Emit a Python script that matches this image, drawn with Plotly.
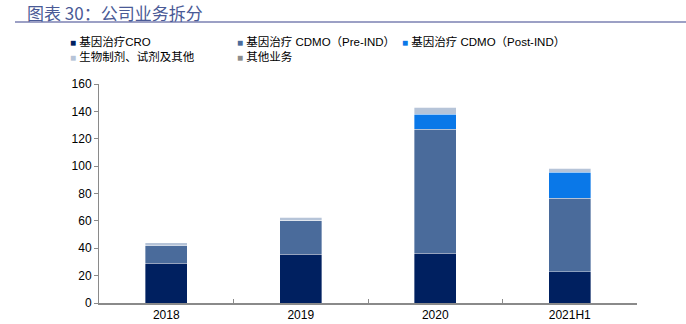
import plotly.graph_objects as go

categories = ["2018", "2019", "2020", "2021H1"]
series_names = ["基因治疗CRO", "基因治疗 CDMO（Pre-IND）", "基因治疗 CDMO（Post-IND）",
                "生物制剂、试剂及其他", "其他业务"]
cro = [29.0, 35.6, 36.3, 23.0]
cdmo_pre = [13.0, 25.0, 90.6, 53.5]
cdmo_post = [0.0, 0.0, 11.1, 19.2]
bio = [2.0, 2.2, 5.0, 2.9]
other = [0.0, 0.0, 0.0, 0.0]
colors = ["#002060", "#4a6b9b", "#0a78e8", "#b6c4d8", "#8c8c8c"]

values = [cro, cdmo_pre, cdmo_post, bio, other]

fig = go.Figure()
for name, vals, c in zip(series_names, values, colors):
    fig.add_trace(go.Bar(x=categories, y=vals, name=name, marker_color=c,
                         marker_line=dict(width=0.6, color="rgba(255,255,255,0.6)"),
                         showlegend=False))

font_main = "Liberation Sans, Arial, Noto Sans CJK SC, sans-serif"

fig.update_layout(
    width=686, height=324,
    margin=dict(l=99, r=49, t=84, b=21, autoexpand=False),
    barmode="stack", bargap=0.69,
    plot_bgcolor="white", paper_bgcolor="white",
    font=dict(family=font_main, size=12, color="#000000"),
    xaxis=dict(type="category", showline=True, linecolor="#8a8a8a", linewidth=1.5,
               ticks="inside", tickson="boundaries", ticklen=4, tickcolor="#8a8a8a",
               showgrid=False, tickfont=dict(size=12), automargin=False),
    yaxis=dict(range=[0, 160], dtick=20, showline=True, linecolor="#8a8a8a", linewidth=1,
               ticks="outside", ticklen=4, tickcolor="#8a8a8a", showgrid=False,
               zeroline=False, tickfont=dict(size=12), automargin=False),
)

# Title and rule
fig.add_annotation(xref="paper", yref="paper", x=(25 - 99) / 538, y=(303 - 12) / 219,
                   xanchor="left", yanchor="middle",
                   text="图表 30：公司业务拆分", showarrow=False,
                   font=dict(size=17, color="#4a5a96", family="Noto Sans CJK SC, sans-serif"))
fig.add_shape(type="line", xref="paper", yref="paper", x0=(15 - 99) / 538, x1=(686 - 99) / 538,
              y0=(303 - 22) / 219, y1=(303 - 22) / 219, line=dict(color="#7b80b2", width=1.5))

# Custom legend
legend_pos = [(68, 42), (235, 42), (400, 42), (68, 57), (235, 57)]
for (px, py), name, c in zip(legend_pos, series_names, colors):
    xp = (px - 99) / 538
    yp = (303 - py) / 219
    fig.add_annotation(xref="paper", yref="paper", x=xp, y=yp, xanchor="left", yanchor="middle",
                       text=f"<span style='color:{c};font-size:10px'>■</span> {name}", showarrow=False,
                       font=dict(size=11.5, color="#000000",
                                 family="Liberation Sans, Noto Sans CJK SC, sans-serif"))

fig.write_html("out.html")
